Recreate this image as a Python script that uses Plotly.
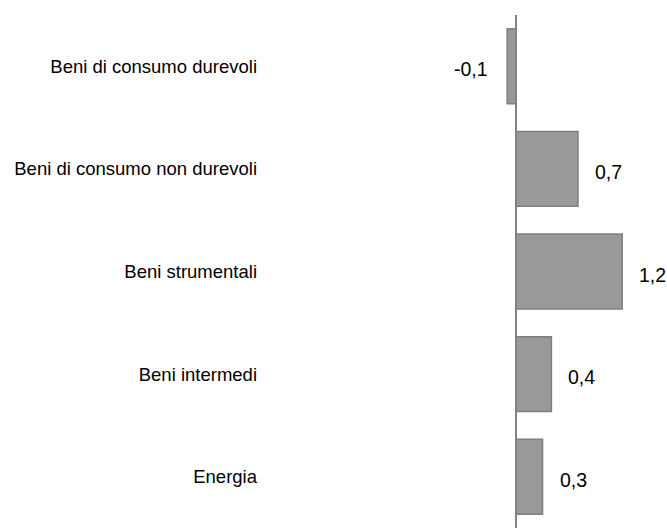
import plotly.graph_objects as go

categories = ["Beni di consumo durevoli", "Beni di consumo non durevoli",
              "Beni strumentali", "Beni intermedi", "Energia"]
values = [-0.1, 0.7, 1.2, 0.4, 0.3]
labels = ["-0,1", "0,7", "1,2", "0,4", "0,3"]

fig = go.Figure()
fig.add_trace(go.Bar(
    x=values, y=categories, orientation="h",
    width=0.73,
    marker=dict(color="#999999", line=dict(color="#7f7f7f", width=1.5)),
    hoverinfo="skip",
))

for c, v, t in zip(categories, values, labels):
    fig.add_annotation(
        x=v, y=c, text=t, showarrow=False,
        xanchor="left" if v >= 0 else "right",
        xshift=15 if v >= 0 else -17, yshift=-3,
        font=dict(family="Liberation Sans, Arial, sans-serif", size=19.5, color="#000000"),
    )

fig.update_layout(
    width=667, height=530,
    margin=dict(l=262, r=0, t=15, b=2),
    paper_bgcolor="white", plot_bgcolor="white",
    showlegend=False,
    font=dict(family="Liberation Sans, Arial, sans-serif", size=18.5, color="#000000"),
    xaxis=dict(range=[-2.87, 1.706], showgrid=False, showticklabels=False,
               zeroline=True, zerolinecolor="#808080", zerolinewidth=1.5,
               showline=False, ticks=""),
    yaxis=dict(categoryorder="array", categoryarray=categories,
               range=[4.5, -0.5], showgrid=False, zeroline=False,
               showline=False, ticks="", automargin=False,
               ticklabelstandoff=4),
)

fig.write_html("out.html")
